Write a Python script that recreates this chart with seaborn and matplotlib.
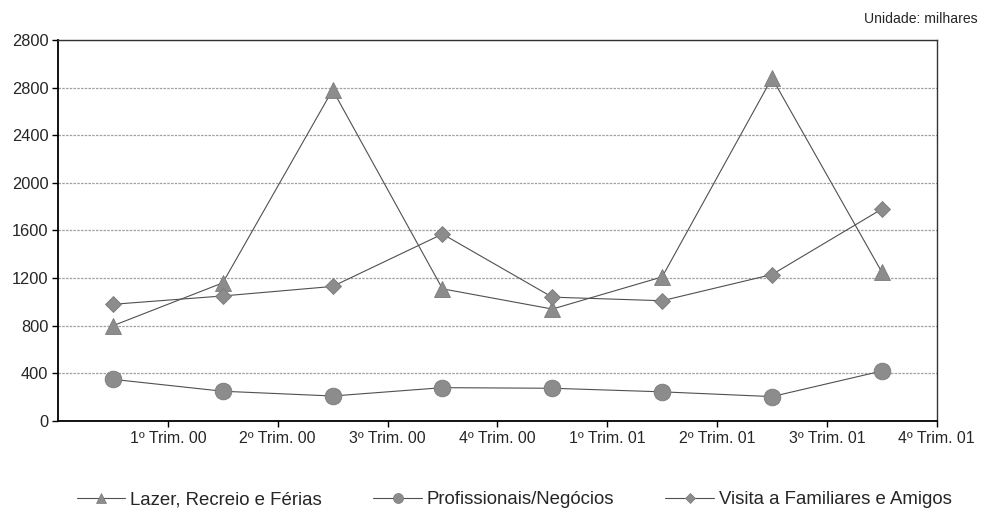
import matplotlib
matplotlib.use("Agg")
import matplotlib.pyplot as plt
import seaborn as sns
import pandas as pd
import numpy as np
from matplotlib.lines import Line2D

quarters = ["1º Trim. 00", "2º Trim. 00", "3º Trim. 00", "4º Trim. 00",
            "1º Trim. 01", "2º Trim. 01", "3º Trim. 01", "4º Trim. 01"]
lazer = [800, 1160, 2780, 1110, 940, 1210, 2880, 1250]
profissionais = [350, 250, 210, 280, 275, 245, 205, 420]
visita = [980, 1050, 1130, 1570, 1040, 1010, 1230, 1780]
series_names = ["Lazer, Recreio e Férias", "Profissionais/Negócios",
                "Visita a Familiares e Amigos"]
y_ticks = [0, 400, 800, 1200, 1600, 2000, 2400, 2800, 3200]
y_tick_labels = ["0", "400", "800", "1200", "1600", "2000", "2400", "2800", "2800"]

sns.set_style("white")
plt.rcParams["font.family"] = ["Liberation Sans", "DejaVu Sans"]

pos = np.arange(len(quarters)) + 0.5
df = pd.DataFrame({
    "pos": np.concatenate([pos, pos, pos]),
    "valor": lazer + profissionais + visita,
    "serie": [series_names[0]] * 8 + [series_names[1]] * 8 + [series_names[2]] * 8,
})

fig = plt.figure(figsize=(9.93, 5.15), dpi=100)
ax = fig.add_axes([0.0584, 0.1825, 0.885, 0.74])

markers = {series_names[0]: "^", series_names[1]: "o", series_names[2]: "D"}
sizes = {series_names[0]: 11, series_names[1]: 12, series_names[2]: 8}
line_col = "#505050"
mk_col = "#8c8c8c"

for name in series_names:
    sub = df[df["serie"] == name]
    sns.lineplot(data=sub, x="pos", y="valor", ax=ax, color=line_col, lw=0.8,
                 marker=markers[name], markersize=sizes[name],
                 markerfacecolor=mk_col, markeredgecolor="#7a7a7a",
                 markeredgewidth=0.6, legend=False)

ax.set_xlim(0, 8)
ax.set_ylim(0, 3200)
ax.set_yticks(y_ticks)
ax.set_yticklabels(y_tick_labels, fontsize=11.8)
ax.set_xticks(np.arange(1, 9))
ax.set_xticklabels(quarters, fontsize=11.4)
ax.set_xlabel("")
ax.set_ylabel("")
ax.yaxis.grid(True, color="#a0a0a0", lw=0.9, ls=(0, (2, 1)))
ax.xaxis.grid(False)
ax.tick_params(axis="both", direction="out", length=4, width=1, color="black",
               left=True, bottom=True, pad=3)
for s in ["left", "bottom"]:
    ax.spines[s].set_color("black")
    ax.spines[s].set_linewidth(1.3)
for s in ["top", "right"]:
    ax.spines[s].set_color("#333333")
    ax.spines[s].set_linewidth(1.0)

fig.text(0.985, 0.964, "Unidade: milhares", ha="right", va="center", fontsize=10.1)

handles = []
for name in series_names:
    handles.append(Line2D([0], [0], color=line_col, lw=0.8, marker=markers[name],
                          markersize=sizes[name] * 0.6, markerfacecolor=mk_col,
                          markeredgecolor="#7a7a7a", markeredgewidth=0.5))
fig.legend(handles, series_names, loc="center", bbox_to_anchor=(0.518, 0.03),
           ncol=3, frameon=False, fontsize=13.4, handlelength=2.6,
           handletextpad=0.27, columnspacing=2.75, borderpad=0, borderaxespad=0)

fig.savefig("out.png", dpi=100)
